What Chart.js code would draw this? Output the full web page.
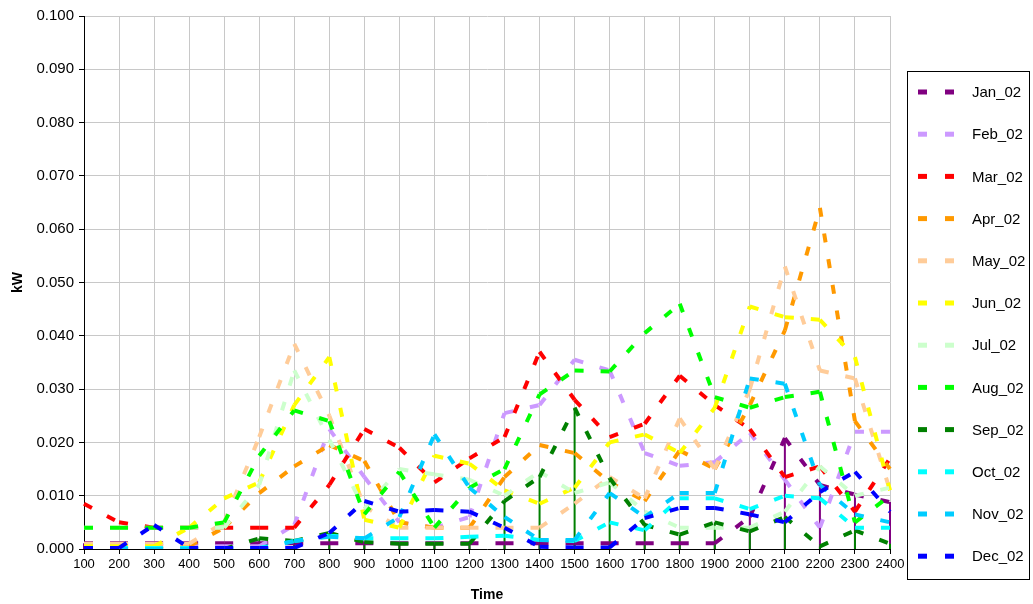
<!DOCTYPE html>
<html>
<head>
<meta charset="utf-8">
<script src="https://cdn.jsdelivr.net/npm/chart.js@4"></script>
<style>
  html, body { margin: 0; padding: 0; background: #fff; }
  #wrap { width: 1033px; height: 604px; }
</style>
</head>
<body>
<div id="wrap"><canvas id="chart" width="1033" height="604"></canvas></div>
<script>
const hours = ['100', '200', '300', '400', '500', '600', '700', '800', '900', '1000', '1100', '1200',
    '1300', '1400', '1500', '1600', '1700', '1800', '1900', '2000', '2100', '2200', '2300', '2400'];

const jan02 = [0.0011, 0.0011, 0.0011, 0.0011, 0.0011, 0.0011, 0.0011, 0.0011, 0.0011, 0.0011, 0.0011, 0.0011,
    0.0011, 0.0011, 0.0011, 0.0011, 0.0011, 0.0011, 0.0011, 0.006, 0.0208, 0.012, 0.0102, 0.0088];
const feb02 = [0.0005, 0.0005, 0.0005, 0.0005, 0.0005, 0.0005, 0.0045, 0.0225, 0.0135, 0.005, 0.004, 0.006,
    0.0255, 0.027, 0.0355, 0.0335, 0.018, 0.0156, 0.0163, 0.0218, 0.013, 0.004, 0.022, 0.022];
const mar02 = [0.0085, 0.005, 0.004, 0.004, 0.004, 0.004, 0.004, 0.012, 0.0225, 0.019, 0.0125, 0.017,
    0.021, 0.037, 0.028, 0.021, 0.0235, 0.0325, 0.027, 0.0225, 0.0135, 0.0155, 0.007, 0.017];
const apr02 = [0.0005, 0.0005, 0.0005, 0.0005, 0.004, 0.0105, 0.0155, 0.0195, 0.0165, 0.005, 0.004, 0.004,
    0.0135, 0.0195, 0.018, 0.0125, 0.009, 0.0185, 0.015, 0.027, 0.041, 0.064, 0.024, 0.015];
const may02 = [0.001, 0.001, 0.001, 0.001, 0.005, 0.021, 0.0385, 0.025, 0.008, 0.004, 0.004, 0.004,
    0.004, 0.004, 0.0085, 0.0135, 0.0095, 0.0245, 0.015, 0.030, 0.053, 0.0335, 0.032, 0.011];
const jun02 = [0.0005, 0.0005, 0.0005, 0.004, 0.0095, 0.0125, 0.027, 0.036, 0.0055, 0.004, 0.0175, 0.016,
    0.011, 0.0085, 0.0115, 0.020, 0.0215, 0.018, 0.0265, 0.0455, 0.0435, 0.043, 0.036, 0.011];
const jul02 = [0.004, 0.004, 0.004, 0.004, 0.004, 0.012, 0.0335, 0.0205, 0.0075, 0.015, 0.014, 0.013,
    0.010, 0.0145, 0.0105, 0.0125, 0.007, 0.004, 0.004, 0.004, 0.007, 0.0155, 0.010, 0.0115];
const aug02 = [0.004, 0.004, 0.004, 0.004, 0.005, 0.0175, 0.026, 0.024, 0.0065, 0.0145, 0.004, 0.0115,
    0.015, 0.029, 0.0335, 0.0333, 0.0405, 0.046, 0.0285, 0.0265, 0.0285, 0.0295, 0.005, 0.010];
const sep02 = [0, 0, 0, 0, 0, 0.002, 0.0015, 0.003, 0.0013, 0.001, 0.001, 0.001,
    0.009, 0.0135, 0.0265, 0.0133, 0.0045, 0.0027, 0.005, 0.0033, 0.006, 0.0005, 0.0035, 0.001];
const oct02 = [0.0002, 0.0002, 0.0002, 0.0002, 0.0002, 0.0002, 0.0015, 0.0025, 0.002, 0.002, 0.002, 0.0023,
    0.0025, 0.0017, 0.0015, 0.005, 0.0035, 0.0095, 0.0095, 0.0075, 0.010, 0.0095, 0.004, 0.004];
const nov02 = [0, 0, 0, 0, 0, 0, 0.0015, 0.0023, 0.002, 0.006, 0.0215, 0.0115,
    0.006, 0.0017, 0.0017, 0.0105, 0.006, 0.0105, 0.0105, 0.032, 0.031, 0.012, 0.0065, 0.005];
const dec02 = [0.0002, 0.0002, 0.0045, 0.0002, 0.0002, 0.0002, 0.0002, 0.003, 0.009, 0.007, 0.0073, 0.007,
    0.004, 0.0004, 0.0003, 0.0003, 0.0058, 0.0077, 0.0077, 0.0065, 0.005, 0.0107, 0.0145, 0.007];

const seriesNames = ['Jan_02', 'Feb_02', 'Mar_02', 'Apr_02', 'May_02', 'Jun_02',
    'Jul_02', 'Aug_02', 'Sep_02', 'Oct_02', 'Nov_02', 'Dec_02'];
const seriesValues = [jan02, feb02, mar02, apr02, may02, jun02, jul02, aug02, sep02, oct02, nov02, dec02];
const seriesColors = ['#800080', '#CC99FF', '#FF0000', '#FF9900', '#FFCC99', '#FFFF00',
    '#CCFFCC', '#00FF00', '#008000', '#00FFFF', '#00CCFF', '#0000FF'];
// Jan and Sep have drop lines down to the axis
const withDropLines = ['Jan_02', 'Sep_02'];

const FONT = 'Arial, "Liberation Sans", sans-serif';

// vertical lines from each point to zero
const dropLinePlugin = {
    id: 'dropLines',
    beforeDatasetsDraw(chart) {
        const ctx = chart.ctx;
        const y0 = chart.scales.y.getPixelForValue(0);
        chart.data.datasets.forEach((ds, i) => {
            if (!ds.dropLines) return;
            const meta = chart.getDatasetMeta(i);
            ctx.save();
            ctx.strokeStyle = ds.borderColor;
            ctx.lineWidth = 2;
            meta.data.forEach(pt => {
                ctx.beginPath();
                ctx.moveTo(pt.x, pt.y);
                ctx.lineTo(pt.x, y0);
                ctx.stroke();
            });
            ctx.restore();
        });
    }
};

// boxed legend on the right, like the spreadsheet one
const boxLegendPlugin = {
    id: 'boxLegend',
    afterDraw(chart) {
        const ctx = chart.ctx;
        ctx.save();
        ctx.strokeStyle = '#000';
        ctx.lineWidth = 1;
        ctx.strokeRect(907.5, 71.5, 122, 508);
        ctx.font = '15px ' + FONT;
        ctx.textBaseline = 'middle';
        chart.data.datasets.forEach((ds, i) => {
            const y = 92 + i * 42.2;
            ctx.fillStyle = ds.borderColor;
            ctx.fillRect(918, y - 2.5, 9, 5);
            ctx.fillRect(945, y - 2.5, 9, 5);
            ctx.fillStyle = '#000';
            ctx.fillText(ds.label, 972, y + 1);
        });
        ctx.restore();
    }
};

const datasets = seriesNames.map((name, i) => ({
    label: name,
    data: seriesValues[i],
    borderColor: seriesColors[i],
    backgroundColor: seriesColors[i],
    borderWidth: 4,
    borderDash: [9, 17],
    pointRadius: 0,
    tension: 0,
    fill: false,
    order: -i,
    dropLines: withDropLines.includes(name),
    // restart the dash pattern on every segment
    segment: {
        borderDashOffset: c => (c.p0DataIndex % 2 ? 0.001 : 0)
    }
}));

new Chart(document.getElementById('chart'), {
    type: 'line',
    data: { labels: hours, datasets: datasets },
    options: {
        responsive: false,
        animation: false,
        layout: { padding: { left: 0, right: 143, top: 16, bottom: 0 } },
        plugins: {
            legend: { display: false },
            tooltip: { enabled: false }
        },
        scales: {
            x: {
                offset: false,
                grid: { color: '#c8c8c8', lineWidth: 1, tickLength: 5, tickColor: '#000' },
                border: { color: '#000', width: 1 },
                ticks: {
                    color: '#000', font: { family: FONT, size: 13 },
                    maxRotation: 0, autoSkip: false, padding: 3
                },
                title: {
                    display: true, text: 'Time', color: '#000',
                    font: { family: FONT, size: 14, weight: 'bold' }, padding: { top: 2, bottom: 0 }
                },
                afterFit(scale) { scale.height = 55; }
            },
            y: {
                min: 0,
                max: 0.1,
                grid: { color: '#c8c8c8', lineWidth: 1, tickLength: 5, tickColor: '#000' },
                border: { color: '#000', width: 1 },
                ticks: {
                    stepSize: 0.01, color: '#000', font: { family: FONT, size: 15 }, padding: 5,
                    callback: v => v.toFixed(3)
                },
                title: {
                    display: true, text: 'kW', color: '#000',
                    font: { family: FONT, size: 14, weight: 'bold' }, padding: { top: 10, bottom: 0 }
                },
                afterFit(scale) { scale.width = 84; }
            }
        }
    },
    plugins: [dropLinePlugin, boxLegendPlugin]
});
</script>
</body>
</html>
